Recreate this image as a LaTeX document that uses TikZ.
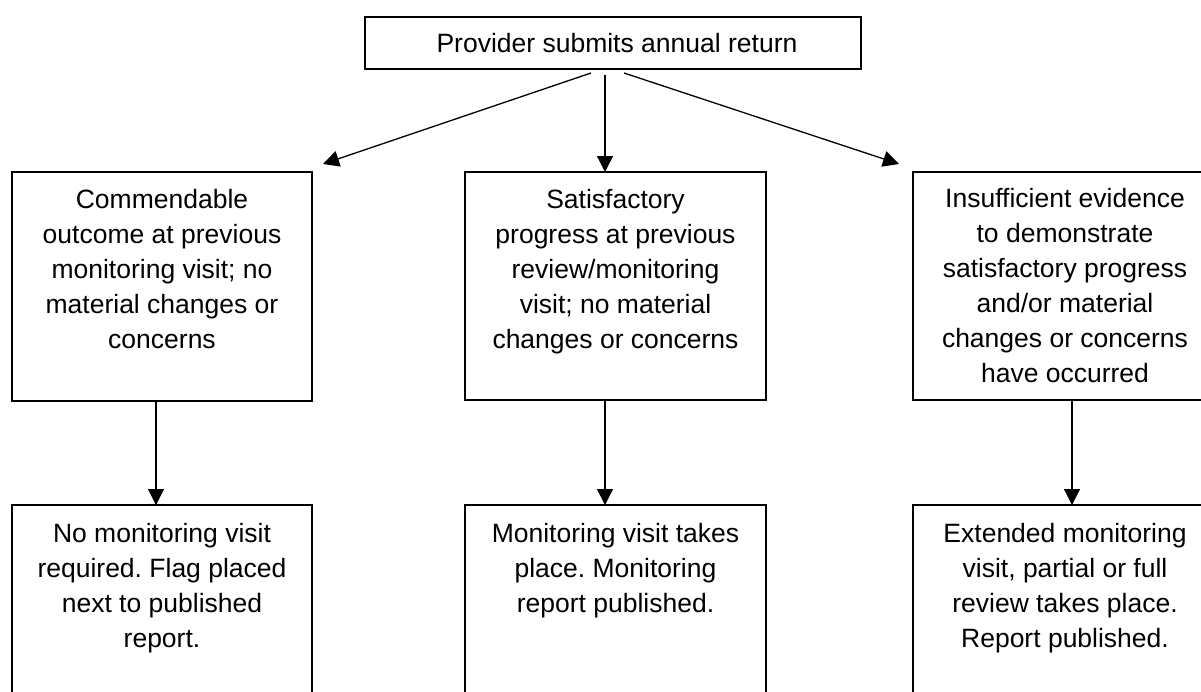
\documentclass[tikz,border=0pt]{standalone}
\usepackage{fontspec}
\setmainfont{Liberation Sans}
\usetikzlibrary{arrows.meta}
\frenchspacing
\begin{document}
\begin{tikzpicture}[x=1pt,y=-1pt]
\tikzset{
  boxline/.style={draw=black, line width=1.7pt, inner sep=0pt, outer sep=0pt},
  txt/.style={align=center, inner sep=0pt, outer sep=0pt, font=\fontsize{26.5}{35}\selectfont\frenchspacing, anchor=north},
  arr/.style={line width=1.3pt, -{Triangle[length=16pt,width=16pt]}}
}
\useasboundingbox (0,0) rectangle (1201,691);
\clip (0,0) rectangle (1201,691);
\fill[white] (0,0) rectangle (1201,691);

% top box
\node[boxline, minimum width=496pt, minimum height=52pt] (top) at (613,43) {};
\node[txt, anchor=center] (toptext) at (617,43) {Provider submits annual return};

% second row
\node[boxline, minimum width=300pt, minimum height=229pt] (lt) at (162,286.5) {};
\node[boxline, minimum width=301pt, minimum height=228pt] (mt) at (615.5,286) {};
\node[boxline, minimum width=304pt, minimum height=228pt] (rt) at (1065,286) {};

\node[txt] (ltt) at (162,184) {\strut Commendable\\outcome at previous\\monitoring visit; no\\material changes or\\concerns};
\node[txt] (mtt) at (615.5,184) {\strut Satisfactory\\progress at previous\\review/monitoring\\visit; no material\\changes or concerns};
\node[txt] (rtt) at (1065,183) {\strut Insufficient evidence\\to demonstrate\\satisfactory progress\\and/or material\\changes or concerns\\have occurred};

% third row (cut off at bottom)
\node[boxline, minimum width=300pt, minimum height=235pt] (lb) at (162,622.5) {};
\node[boxline, minimum width=301pt, minimum height=235pt] (mb) at (615.5,622.5) {};
\node[boxline, minimum width=304pt, minimum height=235pt] (rb) at (1065,622.5) {};

\node[txt] (lbt) at (162,517.5) {\strut No monitoring visit\\required. Flag placed\\next to published\\report.};
\node[txt] (mbt) at (615.5,517.5) {\strut Monitoring visit takes\\place. Monitoring\\report published.};
\node[txt] (rbt) at (1065,517.5) {\strut Extended monitoring\\visit, partial or full\\review takes place.\\Report published.};

% arrows from top
\coordinate (s1) at (591,73);
\coordinate (e1) at (323,164);
\coordinate (s2) at (605,75);
\coordinate (s3) at (624,73);
\coordinate (e3) at (899,164);
\draw[arr] (s1) -- (e1);
\draw[arr] (s2) -- (s2 |- mt.north);
\draw[arr] (s3) -- (e3);

% vertical arrows
\coordinate (d1) at (156,0);
\coordinate (d2) at (605,0);
\coordinate (d3) at (1072,0);
\draw[arr] (d1 |- lt.south) -- (d1 |- lb.north);
\draw[arr] (d2 |- mt.south) -- (d2 |- mb.north);
\draw[arr] (d3 |- rt.south) -- (d3 |- rb.north);
\end{tikzpicture}
\end{document}
